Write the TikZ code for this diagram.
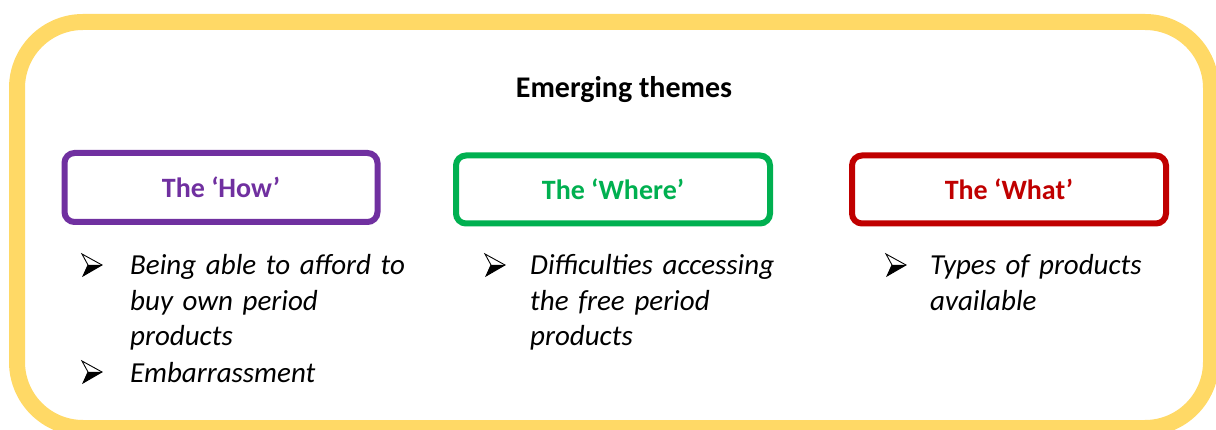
\documentclass[tikz,border=0pt]{standalone}
\usepackage{fontspec}
\setmainfont{Carlito}
\usetikzlibrary{positioning}

\definecolor{themeyellow}{HTML}{FFD966}
\definecolor{themepurple}{HTML}{7030A0}
\definecolor{themegreen}{HTML}{00B050}
\definecolor{themered}{HTML}{C00000}

\tikzset{
  themebox/.style={draw=#1, text=#1, line width=6pt, rounded corners=10pt,
    minimum width=314pt, minimum height=68pt,
    font=\fontsize{28}{34}\selectfont\bfseries},
  itemtext/.style={anchor=base west, inner sep=0pt, text width=300pt, align=left,
    font=\fontsize{29}{35.5}\selectfont\itshape},
  arrowmark/.pic={
    \fill[black] (-42,-10) -- (-28,-10) -- (-47,1) -- cycle;
    \draw[black, line width=0.9pt, line join=miter]
      (-42,-10) -- (-48,-21) -- (-28,-10) -- (-47,1) -- cycle;
  },
}

\begin{document}
\begin{tikzpicture}[x=1pt, y=-1pt]
    \useasboundingbox (0,0) rectangle (1216,430);
    \fill[white] (0,0) rectangle (1216,430);

    % outer frame
    \draw[themeyellow, line width=16pt, rounded corners=66pt] (17,22) rectangle (1211,428);

    \node (title) [anchor=base, font=\fontsize{30}{36}\selectfont\bfseries] at (624,98) {Emerging themes};

    % the three themes
    \node (how) [themebox=themepurple, minimum width=313pt, minimum height=69pt] at (221,187.5) {The ‘How’};
    \node (where) [themebox=themegreen] at (613,189.5) {The ‘Where’};
    \node (what) [themebox=themered] at (1009,189.5) {The ‘What’};

    % bullet points
    \node (how1) [itemtext] at (130,275) {Being able to afford to\\buy own period\\products};
    \node (how2) [itemtext] at (130,382) {Embarrassment};
    \node (where1) [itemtext] at (530,275) {Difficulties accessing\\the free period\\products};
    \node (what1) [itemtext] at (930,275) {Types of products\\available};

    \pic at (how1.base west) {arrowmark};
    \pic at (how2.base west) {arrowmark};
    \pic at ([xshift=3pt]where1.base west) {arrowmark};
    \pic at ([xshift=4pt]what1.base west) {arrowmark};
\end{tikzpicture}
\end{document}
